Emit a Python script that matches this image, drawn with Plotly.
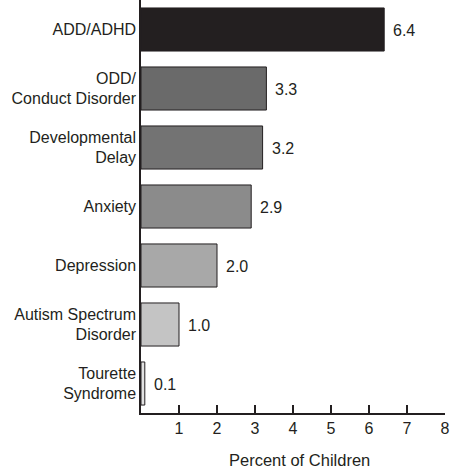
import plotly.graph_objects as go

categories = ["ADD/ADHD", "ODD/<br>Conduct Disorder", "Developmental<br>Delay", "Anxiety",
              "Depression", "Autism Spectrum<br>Disorder", "Tourette<br>Syndrome"]
values = [6.4, 3.3, 3.2, 2.9, 2.0, 1.0, 0.1]
value_labels = ["6.4", "3.3", "3.2", "2.9", "2.0", "1.0", "0.1"]
colors = ["#231f20", "#6a6a6a", "#737373", "#8b8b8b", "#a8a8a8", "#c4c4c4", "#e2e2e2"]
x_ticks = [1, 2, 3, 4, 5, 6, 7, 8]

cats = categories[::-1]
vals = values[::-1]
labs = value_labels[::-1]
cols = colors[::-1]
ypos = list(range(len(cats)))

FONT = "Liberation Sans, Arial"
INK = "#231f20"

fig = go.Figure(go.Bar(
    y=ypos, x=vals, orientation="h",
    marker=dict(color=cols, line=dict(color=INK, width=1)),
    width=0.73, hoverinfo="skip",
))

for yv, xv, t in zip(ypos, vals, labs):
    fig.add_annotation(x=xv, y=yv, text=t, showarrow=False, xanchor="left",
                       xshift=7, yshift=-1, font=dict(family=FONT, size=16, color=INK))

fig.add_annotation(x=0.5, y=0, xref="paper", yref="paper", yshift=-47, yanchor="middle",
                   xshift=6, text="Percent of Children", showarrow=False,
                   font=dict(family=FONT, size=16.5, color=INK))

fig.update_layout(
    width=451, height=470,
    margin=dict(l=141, r=6, t=0, b=57),
    plot_bgcolor="white", paper_bgcolor="white",
    font=dict(family=FONT, size=16, color=INK),
    showlegend=False,
    xaxis=dict(range=[0, 8], tickvals=x_ticks, ticktext=[str(t) for t in x_ticks],
               ticks="inside", ticklen=8, tickcolor=INK, tickwidth=1.5,
               showline=True, linecolor=INK, linewidth=1.5,
               showgrid=False, zeroline=False, automargin=False,
               tickfont=dict(size=16)),
    yaxis=dict(range=[-0.5, 6.5], tickvals=ypos, ticktext=cats,
               showline=True, linecolor=INK, linewidth=1.5,
               showgrid=False, zeroline=False, ticks="", ticklabelstandoff=0,
               automargin=False, tickfont=dict(size=16)),
)

fig.write_html("out.html", config={"displayModeBar": False},
               post_script="document.body.style.margin='0';document.body.style.overflow='hidden';")
